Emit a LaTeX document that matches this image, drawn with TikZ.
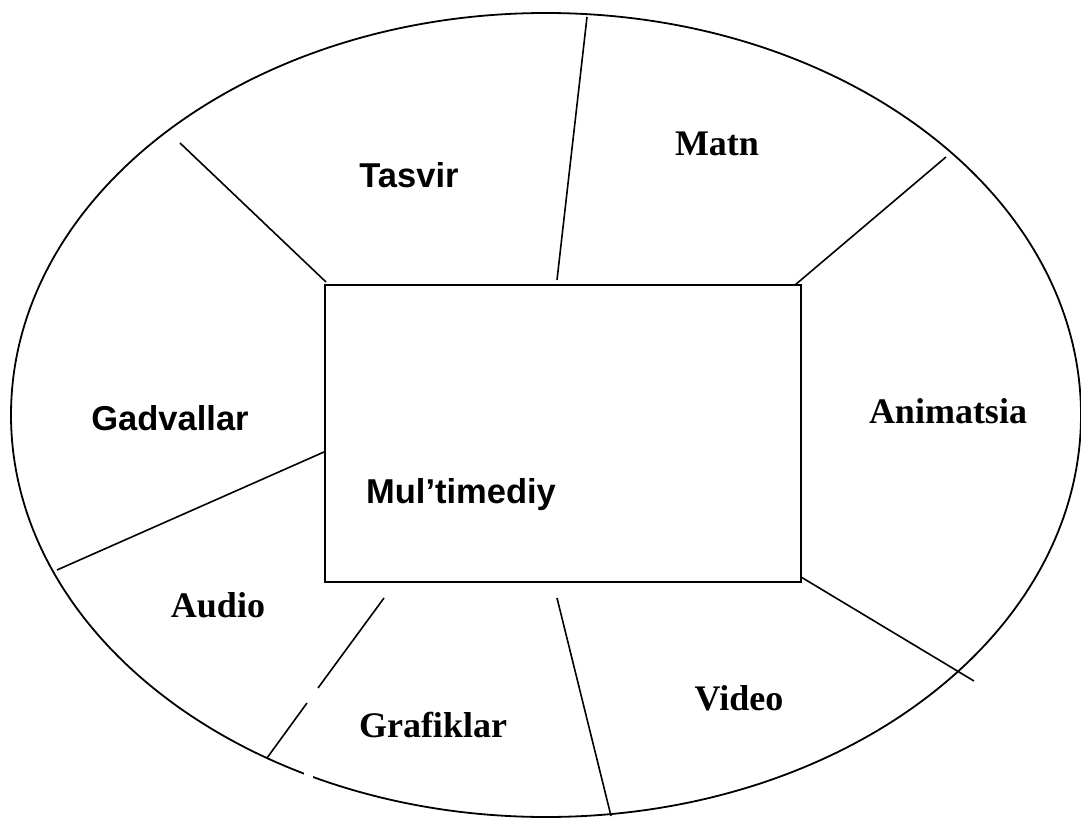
\documentclass[tikz,border=0pt]{standalone}
\usepackage{fontspec}
\setmainfont{Liberation Serif}
\setsansfont{Liberation Sans}
\begin{document}
\begin{tikzpicture}[x=1pt,y=-1pt,
  sep/.style={line width=1.6pt},
  sanslabel/.style={anchor=base,inner sep=0pt,font=\sffamily\bfseries\fontsize{34.5}{40}\selectfont},
  seriflabel/.style={anchor=base,inner sep=0pt,font=\rmfamily\bfseries\fontsize{36}{40}\selectfont}]
\useasboundingbox (0,0) rectangle (1081,818);
% outer ellipse
\draw[line width=1.8pt] (546,415) ellipse [x radius=535, y radius=402];
% centre box
\node (box) [draw, line width=1.8pt, minimum width=476pt, minimum height=297pt, inner sep=0pt] at (563,433.5) {};
% separator end points
\coordinate (tl1) at (180,143);  \coordinate (tl2) at (326,282);
\coordinate (tm1) at (587,17);   \coordinate (tm2) at (557,280);
\coordinate (tr1) at (946,157);  \coordinate (tr2) at (795,285);
\coordinate (l1)  at (57,570);   \coordinate (l2)  at (324,452);
\coordinate (br1) at (801,577);  \coordinate (br2) at (974,681);
\coordinate (bm1) at (557,598);  \coordinate (bm2) at (611,816);
\coordinate (bl1) at (384,598);  \coordinate (bla) at (318,688);
\coordinate (blb) at (307,703);  \coordinate (bl2) at (267,758);
\draw[sep] (tl1) -- (tl2);
\draw[sep] (tm1) -- (tm2);
\draw[sep] (tr1) -- (tr2);
\draw[sep] (l1) -- (l2);
\draw[sep] (br1) -- (br2);
\draw[sep] (bm1) -- (bm2);
\draw[sep] (bl1) -- (bla);
\draw[sep] (blb) -- (bl2);
% small break in the ellipse
\fill[white] (304,772) rectangle (313,784);
% labels
\node (tasvir) [sanslabel] at (409,188) {Tasvir};
\node (matn) [seriflabel] at (717,156) {Matn};
\node (anim) [seriflabel] at (948,423) {Animatsia};
\node (gadv) [sanslabel] at (170,430) {Gadvallar};
\node (multi) [sanslabel] at (461,503) {Mul’timediy};
\node (audio) [seriflabel] at (218,617) {Audio};
\node (graf) [seriflabel] at (433,737) {Grafiklar};
\node (video) [seriflabel] at (739,710) {Video};
\end{tikzpicture}
\end{document}
